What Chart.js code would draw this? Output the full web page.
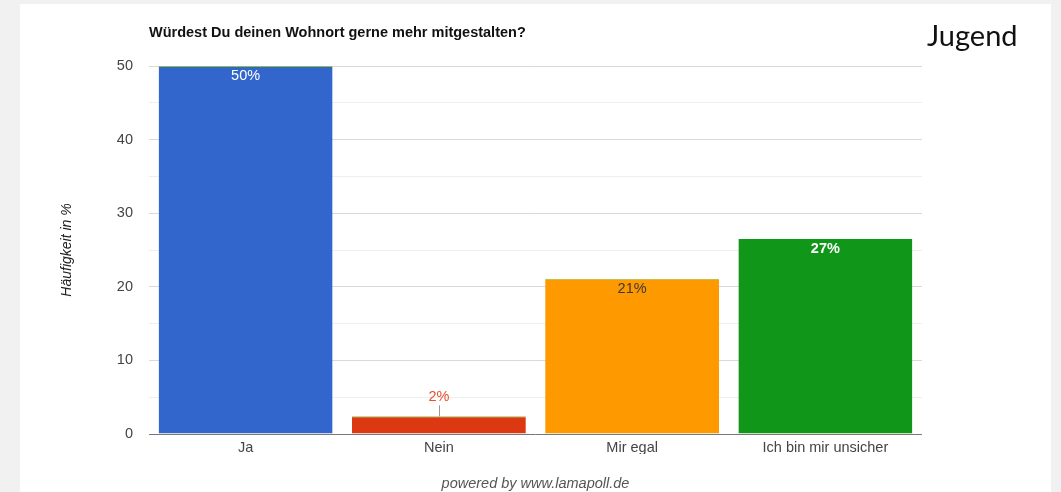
<!DOCTYPE html>
<html>
<head>
<meta charset="utf-8">
<script src="https://cdn.jsdelivr.net/npm/chart.js@4/dist/chart.umd.min.js"></script>
<style>
  html, body { margin: 0; padding: 0; background: #f1f1f1; }
  #panel { position: absolute; left: 20px; top: 4px; width: 1031px; height: 488px; background: #fff; }
</style>
</head>
<body>
<div id="panel"><canvas id="lamaChart" width="1031" height="488"></canvas></div>
<script>
// data
const categories = ['Ja', 'Nein', 'Mir egal', 'Ich bin mir unsicher'];
const percentValues = [50, 2.4, 21.1, 26.5];
const percentLabels = ['50%', '2%', '21%', '27%'];
const yTicks = [0, 10, 20, 30, 40, 50];

const chartTitle = 'Würdest Du deinen Wohnort gerne mehr mitgestalten?';
const groupLabel = 'Jugend';
const footerText = 'powered by www.lamapoll.de';

const barColors = ['#3366cc', '#dc3912', '#ff9900', '#109618'];
const labelColors = ['#ffffff', '#e4502f', '#3a3a3a', '#ffffff'];

const FONT = '"Liberation Sans", Arial, sans-serif';

// draws title, group name, footer and the value labels
const textPlugin = {
    id: 'lamaText',
    afterDatasetsDraw(chart) {
        const c = chart.ctx;
        const area = chart.chartArea;
        c.save();

        c.fillStyle = '#111';
        c.font = 'bold 14.5px ' + FONT;
        c.textAlign = 'left';
        c.textBaseline = 'middle';
        c.fillText(chartTitle, area.left, 29);

        c.font = '29px Lato, "Open Sans", sans-serif';
        c.textBaseline = 'alphabetic';
        c.fillText(groupLabel, 907, 42);

        c.fillStyle = '#555';
        c.font = 'italic 14.5px ' + FONT;
        c.textAlign = 'center';
        c.textBaseline = 'middle';
        c.fillText(footerText, (area.left + area.right) / 2, 480);

        const meta = chart.getDatasetMeta(0);
        meta.data.forEach((bar, i) => {
            const h = bar.base - bar.y;
            c.fillStyle = labelColors[i];
            c.font = (i === 3 ? 'bold ' : '') + '14.5px ' + FONT;
            if (h > 30) {
                c.fillText(percentLabels[i], bar.x, bar.y + 10);
            } else {
                c.fillText(percentLabels[i], bar.x, bar.y - 19);
                c.strokeStyle = '#999';
                c.lineWidth = 1;
                c.beginPath();
                c.moveTo(Math.round(bar.x) + 0.5, bar.y);
                c.lineTo(Math.round(bar.x) + 0.5, bar.y - 11);
                c.stroke();
            }
        });
        c.restore();
    }
};

const ctx = document.getElementById('lamaChart').getContext('2d');

const lamaChart = new Chart(ctx, {
    type: 'bar',
    data: {
        labels: categories,
        datasets: [{
            data: percentValues,
            backgroundColor: barColors,
            borderColor: ['#8fbf4a', '#8fbf4a', '#8fbf4a', '#109618'],
            borderWidth: { top: 1, left: 0, right: 0, bottom: 0 },
            borderSkipped: false,
            barPercentage: 0.9,
            categoryPercentage: 1.0
        }]
    },
    options: {
        responsive: false,
        animation: false,
        layout: {
            padding: { left: 0, right: 129, top: 62, bottom: 38 }
        },
        plugins: {
            legend: { display: false },
            tooltip: { enabled: false }
        },
        scales: {
            x: {
                grid: { display: false, drawTicks: false },
                border: { display: false },
                ticks: {
                    color: '#444',
                    padding: 5,
                    font: { size: 14.5, family: FONT }
                },
                afterFit(scale) { scale.height = 20; }
            },
            y: {
                min: 0,
                max: 50,
                border: { display: false },
                grid: {
                    drawTicks: false,
                    lineWidth: 1,
                    color: (g) => {
                        const v = g.tick.value;
                        if (v === 0) return '#777';
                        return yTicks.includes(v) ? '#d9d9d9' : '#eeeeee';
                    }
                },
                ticks: {
                    stepSize: 5,
                    padding: 16,
                    color: '#444',
                    font: { size: 14.5, family: FONT },
                    callback: (v) => yTicks.includes(v) ? String(v) : ''
                },
                title: {
                    display: true,
                    text: 'Häufigkeit in %',
                    color: '#222',
                    padding: { top: 39, bottom: 0 },
                    font: { size: 14, style: 'italic', family: FONT }
                },
                afterFit(scale) { scale.width = 129; }
            }
        }
    },
    plugins: [textPlugin]
});
</script>
</body>
</html>
